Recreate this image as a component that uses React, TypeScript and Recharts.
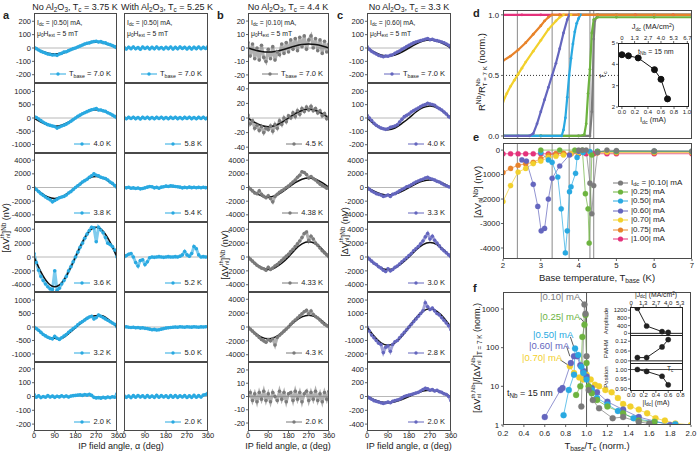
import React from 'react';
import { ComposedChart, LineChart, Line, XAxis, YAxis, ReferenceLine } from 'recharts';

const FONT = '"Liberation Sans", Arial, Helvetica, sans-serif';

const C_BLUE = '#29a9e1';
const C_GRAY = '#7b7b7b';
const C_PURP = '#6466be';
const C_GREEN = '#6db33f';
const C_YEL = '#f2d02c';
const C_ORG = '#e8832a';
const C_PINK = '#e4317b';

// ---------------- angle data (0..360 step 10) ----------------
const ANGLES = [0,10,20,30,40,50,60,70,80,90,100,110,120,130,140,150,160,170,180,190,200,210,220,230,240,250,260,270,280,290,300,310,320,330,340,350,360];
const FIT_ANGLES = [0,30,60,90,120,150,180,210,240,270,300,330,360];
const ANGLE_TICKS = [0,90,180,270,360];

// panel a, no Al2O3
const AL1 = [5,-5,-15,-25,-32,-38,-45,-48,-52,-50,-55,-45,-40,-30,-28,-20,-12,-5,0,8,15,22,30,35,38,45,48,50,45,48,40,38,30,25,18,10,0];
const AL1F = [0,-22,-39,-45,-39,-22,0,22,39,45,39,22,0];
const AL2 = [50,20,-40,-100,-160,-210,-250,-280,-300,-320,-380,-340,-300,-270,-230,-180,-120,-60,0,60,110,160,200,240,280,310,330,360,300,300,270,250,200,160,110,60,0];
const AL2F = [0,-155,-268,-310,-268,-155,0,155,268,310,268,155,0];
const AL3 = [0,-300,-600,-900,-1150,-1400,-1600,-1800,-2100,-1900,-1700,-1500,-1400,-1300,-1100,-800,-600,-300,0,250,500,800,1000,1200,1500,1700,2000,1800,1700,1500,1400,1300,1100,800,600,300,0];
const AL3F = [0,-800,-1386,-1600,-1386,-800,0,800,1386,1600,1386,800,0];
const AL4 = [500,-800,-1900,-2800,-3400,-3900,-4300,-4600,-4700,-2000,-4800,-4500,-3900,-3400,-2800,-2000,-1400,-700,0,700,1400,2000,2700,3300,3800,4300,4200,2200,4300,3900,3500,2800,2000,1800,1500,1000,0];
const AL4F = [0,-2150,-3720,-4300,-3720,-2150,0,2150,3720,4300,3720,2150,0];
const AL5 = [0,-60,-120,-200,-280,-330,-380,-420,-440,-350,-420,-460,-400,-340,-280,-200,-130,-60,0,80,150,200,260,320,370,400,300,350,440,400,350,300,250,200,150,100,0];
const AL5F = [0,-200,-380,-420,-420,-250,-30,200,380,420,410,230,0];
const AL6 = [15,-5,5,-8,0,-5,6,-4,3,-6,2,-3,5,-2,4,-4,3,6,8,10,12,8,14,10,16,8,-6,-10,-8,-12,-6,-10,-4,-8,-2,-5,20];

// panel a, with Al2O3
const AR1 = [5,-8,6,-5,8,-6,4,-9,7,-4,6,-7,5,-6,8,-5,4,-7,6,-5,7,-8,5,-6,8,-4,6,-7,5,-8,6,-5,7,-6,5,-4,10];
const AR2 = [20,-30,25,-20,30,-25,20,-35,25,-20,30,-25,20,-30,25,-20,30,-25,20,-30,25,-20,30,-25,20,-30,25,-20,30,-25,20,-30,25,-20,30,-25,20];
const AR3 = [0,-50,30,-100,-60,-150,-80,-200,-150,-50,50,150,100,-50,20,-100,50,100,200,150,250,200,150,100,50,-50,20,-30,50,-20,30,-40,20,-30,40,-20,0];
const AR4 = [0,200,400,500,0,-800,-1300,-500,-400,-1100,-700,-100,0,-50,0,50,0,-50,0,50,0,0,50,0,100,300,800,300,100,500,1500,1200,300,0,50,0,0];
const AR5 = [0,10,-10,-20,-10,-30,-20,-40,-30,-50,-60,-80,-100,-90,-110,-100,-80,-60,-40,-30,-20,-10,0,-10,10,0,-10,10,0,-5,10,0,-10,5,0,10,20];
const AR6 = [5,-6,4,-8,6,-5,7,-4,5,-7,6,-5,4,-6,8,-5,6,-4,5,-7,6,-5,7,-6,5,-4,6,-7,5,-6,8,-5,6,-4,10,15,25];

// panel b
const BC1 = [4,-6,3,-8,0,-9,2,-7,-10,-1,-8,1,-9,-3,-5,3,-4,4,-3,6,-1,7,-2,8,1,9,-1,6,9,0,7,-2,6,-4,5,-3,3];
const BC1F = [0,-1.5,-2.6,-3,-2.6,-1.5,0,1.5,2.6,3,2.6,1.5,0];
const BC2 = [4,-8,-4,-14,-10,-17,-12,-20,-14,-16,-11,-18,-9,-14,-4,-9,0,-5,3,0,7,2,10,5,13,9,15,11,16,10,13,7,10,3,6,-1,2];
const BC2F = [0,-6,-10.4,-12,-10.4,-6,0,6,10.4,12,10.4,6,0];
const BC3 = [100,-200,-500,-800,-900,-500,-1000,-1300,-1500,-1200,-1600,-2100,-1300,-1000,-700,-500,-300,0,200,500,800,1100,1500,1800,2300,2200,1900,1400,1600,1300,1100,800,500,300,100,-100,0];
const BC3F = [0,-700,-1212,-1400,-1212,-700,0,700,1212,1400,1212,700,0];
const BC4 = [0,-300,-600,-900,-1200,-1400,-1600,-1700,-1900,-1500,-1800,-1600,-1300,-1100,-800,-500,-200,100,400,800,1100,1500,1900,2300,2800,3400,3600,2400,3000,2600,2000,1700,1300,900,600,300,0];
const BC4F = [0,-900,-1550,-1800,-1550,-900,0,1100,1900,2200,1900,1100,0];
const BC5 = [0,-300,-600,-900,-1200,-1500,-1800,-2000,-2200,-1800,-2000,-1700,-2600,-1500,-1200,-900,-600,-300,0,400,700,1000,1300,1600,1900,2200,2400,1900,2300,1800,1500,1300,1000,700,400,200,0];
const BC5F = [0,-850,-1470,-1700,-1470,-850,0,850,1470,1700,1470,850,0];
const BC6 = [0,3,-3,2,-4,3,-2,4,-3,2,-4,3,0,-3,4,-2,3,-4,2,3,-3,4,-2,3,-4,2,4,-3,3,-2,4,-3,2,-4,3,-2,4];

// panel c
const CC1 = [10,-10,-25,-35,-45,-55,-60,-65,-60,-62,-55,-50,-40,-30,-22,-10,0,10,20,30,38,45,50,55,60,65,70,62,65,58,55,50,45,38,30,20,0];
const CC1F = [0,-30,-52,-60,-52,-30,0,30,52,60,52,30,0];
const CC2 = [20,0,-20,-40,-55,-65,-75,-80,-85,-80,-70,-65,-60,-50,-30,-10,10,20,30,45,55,65,75,85,95,100,110,105,100,95,80,70,60,45,30,10,0];
const CC2F = [0,-45,-78,-88,-75,-40,0,45,78,90,78,45,0];
const CC3 = [0,-250,-500,-700,-900,-1000,-1100,-1300,-1200,-1100,-1300,-1000,-900,-700,-500,-300,-100,100,200,400,600,800,950,1100,1200,1400,1500,1300,1200,1100,900,800,600,400,250,100,0];
const CC3F = [0,-550,-953,-1100,-953,-550,0,550,953,1100,953,550,0];
const CC4 = [0,-300,-600,-900,-1100,-1400,-1600,-1900,-2100,-1700,-2000,-1800,-1500,-1300,-1000,-700,-400,-100,200,500,900,1200,1500,1900,2300,2900,3400,2600,3000,2400,2000,1600,1200,900,600,300,0];
const CC4F = [0,-900,-1560,-1800,-1560,-900,0,1000,1800,2100,1800,1000,0];
const CC5 = [0,-300,-600,-800,-1000,-1200,-1300,-1900,-1500,-1400,-1800,-1300,-1100,-1000,-800,-600,-400,-200,0,200,400,600,800,1000,1200,1800,1500,1300,1400,1200,1000,900,700,500,300,100,-200];
const CC5F = [0,-675,-1170,-1350,-1170,-675,0,675,1170,1350,1170,675,0];
const CC6 = [0,-20,-40,-60,-70,-80,-90,-100,-90,-80,-90,-70,-60,-50,-40,-20,0,10,20,30,40,50,60,80,100,120,110,90,100,80,90,70,60,40,30,0,-60];
const CC6F = [0,-45,-78,-90,-78,-45,0,45,78,90,78,45,0];

const T250 = [-200,-100,0,100,200];
const T1300 = [-1000,-500,0,500,1000];
const T5000 = [-4000,-2000,0,2000,4000];
const T25 = [-20,-10,0,10,20];
const T50 = [-40,-20,0,20,40];
const T2600 = [-2000,-1000,0,1000,2000];
const T500 = [-400,-200,0,200,400];

const LEG_AL = ['7.0 K','4.0 K','3.8 K','3.6 K','3.2 K','2.0 K'];
const LEG_AR = ['7.0 K','5.8 K','5.4 K','5.2 K','5.0 K','2.0 K'];
const LEG_B = ['7.0 K','4.5 K','4.38 K','4.33 K','4.3 K','2.0 K'];
const LEG_C = ['7.0 K','4.0 K','3.3 K','3.0 K','2.8 K','2.0 K'];

const SPEC_AL = [
  { vals: AL1, fit: AL1F, lim: 262, ticks: T250 },
  { vals: AL2, fit: AL2F, lim: 1320, ticks: T1300 },
  { vals: AL3, fit: AL3F, lim: 5050, ticks: T5000 },
  { vals: AL4, fit: AL4F, lim: 5050, ticks: T5000 },
  { vals: AL5, fit: AL5F, lim: 1300, ticks: T1300 },
  { vals: AL6, fit: null, lim: 250, ticks: T250 },
];
const SPEC_AR = [
  { vals: AR1, fit: null, lim: 262, ticks: T250 },
  { vals: AR2, fit: null, lim: 1320, ticks: T1300 },
  { vals: AR3, fit: null, lim: 5050, ticks: T5000 },
  { vals: AR4, fit: null, lim: 5050, ticks: T5000 },
  { vals: AR5, fit: null, lim: 1300, ticks: T1300 },
  { vals: AR6, fit: null, lim: 250, ticks: T250 },
];
const SPEC_B = [
  { vals: BC1, fit: BC1F, lim: 26, ticks: T25 },
  { vals: BC2, fit: BC2F, lim: 48, ticks: T50 },
  { vals: BC3, fit: BC3F, lim: 5050, ticks: T5000 },
  { vals: BC4, fit: BC4F, lim: 5050, ticks: T5000 },
  { vals: BC5, fit: BC5F, lim: 5050, ticks: T5000 },
  { vals: BC6, fit: null, lim: 26, ticks: T25 },
];
const SPEC_C = [
  { vals: CC1, fit: CC1F, lim: 262, ticks: T250 },
  { vals: CC2, fit: CC2F, lim: 262, ticks: T250 },
  { vals: CC3, fit: CC3F, lim: 5050, ticks: T5000 },
  { vals: CC4, fit: CC4F, lim: 5050, ticks: T5000 },
  { vals: CC5, fit: CC5F, lim: 2600, ticks: T2600 },
  { vals: CC6, fit: CC6F, lim: 500, ticks: T500 },
];

// ---------------- panel d ----------------
const D_T_PINK = [2,2.5,3,3.5,4,4.5,5,5.5,6,6.5,7];
const D_R_PINK = [1,1,1,1,1,1,1,1,1,1,1];
const D_T_ORG = [2,2.2,2.4,2.6,2.8,3.0,3.1,3.2,3.3,3.5,4,4.5,5,5.5,6,6.5,7];
const D_R_ORG = [0.62,0.66,0.71,0.77,0.84,0.91,0.95,0.98,1,1,1,1,1,1,1,1,1];
const D_T_YEL = [2,2.1,2.2,2.3,2.4,2.5,2.6,2.8,3.0,3.2,3.4,3.5,3.6,3.8,4,4.5,5,6,7];
const D_R_YEL = [0.28,0.35,0.41,0.46,0.51,0.56,0.61,0.7,0.79,0.88,0.95,0.98,1,1,1,1,1,1,1];
const D_T_PUR = [2,2.4,2.7,2.8,2.9,3.0,3.1,3.2,3.3,3.4,3.5,3.6,3.7,3.75,4,4.5,5,6,7];
const D_R_PUR = [0,0,0,0.02,0.1,0.2,0.3,0.4,0.5,0.6,0.72,0.85,0.96,1,1,1,1,1,1];
const D_T_BLU = [2,3,3.55,3.6,3.65,3.7,3.75,3.8,3.85,3.9,3.95,4.0,4.05,4.5,5,6,7];
const D_R_BLU = [0,0,0,0.05,0.15,0.32,0.5,0.64,0.76,0.86,0.93,0.97,1,1,1,1,1];
const D_T_GRN = [2,3,4,4.15,4.2,4.25,4.3,4.35,4.4,4.5,5,6,7];
const D_R_GRN = [0,0,0,0.01,0.1,0.35,0.55,0.85,0.96,0.98,0.98,0.98,0.98];
const D_T_GRY = [2,3,4,4.3,4.35,4.38,4.4,4.43,4.5,5,6,7];
const D_R_GRY = [0,0,0,0,0.2,0.5,0.8,0.95,1,1,1,1];
const TC_LINES = [2.38,3.3,3.75,4.3,4.4];

// inset d
const DI_I = [0,0.1,0.25,0.5,0.6,0.7];
const DI_TC = [4.45,4.4,4.3,3.75,3.3,2.38];
const DI_I_TICKS = [0,0.2,0.4,0.6,0.8,1.0];
const DI_J_TICKS = [0,1.3,2.7,4.0,5.3,6.7];

// ---------------- panel e ----------------
const E_T_GRY = [4.0,4.1,4.2,4.3,4.35,4.4,4.5,4.75,5,6,7];
const E_V_GRY = [0,0,0,-1350,-2600,-1450,-100,0,-20,-30,-40];
const E_T_GRN = [3.0,3.5,3.9,4.1,4.18,4.25,4.28,4.35,4.5,5,6,7];
const E_V_GRN = [0,0,0,0,-1780,-2400,-3800,-200,-50,-50,-50,-50];
const E_T_BLU = [3.0,3.2,3.3,3.45,3.54,3.65,3.7,3.76,3.8,3.92,3.96,4.12,4.3,4.5,5,6,7];
const E_V_BLU = [-100,-400,-500,-1100,-2400,-4200,-3300,-1700,-1500,-950,-300,-100,-60,-60,-50,-50,-50];
const E_T_PUR = [2.5,2.62,2.8,2.92,3.01,3.1,3.2,3.3,3.5,3.76,4.0,4.5,5,6,7];
const E_V_PUR = [-400,-450,-1400,-2300,-3300,-3200,-2000,-1150,-650,-200,-50,-50,-50,-50,-50];
const E_T_YEL = [2.0,2.2,2.4,2.6,2.8,3.0,3.2,3.4,3.6,3.8,4.0,4.3,4.75,5,6,7];
const E_V_YEL = [-2100,-1450,-900,-750,-550,-450,-300,-250,-200,-150,-100,-100,-80,-80,-80,-80];
const E_T_ORG = [2.0,2.2,2.4,2.6,2.8,3.0,3.2,3.4,3.6,4.0,4.5,5,6,7];
const E_V_ORG = [-920,-750,-620,-560,-500,-350,-200,-150,-130,-120,-110,-110,-110,-110];
const E_T_PINK = [2.0,2.2,2.4,2.6,2.8,3.0,3.2,3.4,3.6,3.8,4.0,4.2,4.4,4.75,5,6,7];
const E_V_PINK = [-150,-150,-150,-150,-150,-150,-150,-150,-150,-150,-150,-150,-150,-150,-150,-150,-150];
const E_LEGEND = ['|0.10| mA','|0.25| mA','|0.50| mA','|0.60| mA','|0.70| mA','|0.75| mA','|1.00| mA'];

// ---------------- panel f ----------------
const F_X_GRY = [0.95,0.98,0.99,1.0,1.02,1.06,1.12,1.25,1.35,1.5,1.6];
const F_Y_GRY = [3,1300,750,60,8,4.4,2.7,1.5,1.6,1.2,1.1];
const F_X_GRN = [0.9,0.94,0.96,0.98,0.99,1.0,1.02,1.05,1.1,1.2,1.35,1.5,1.65];
const F_Y_GRN = [6,10,190,390,700,40,10,6.6,4.4,3,2,1.3,1.2];
const F_X_BLU = [0.78,0.83,0.88,0.89,0.92,0.95,0.97,1.0,1.05,1.1,1.2,1.3,1.45,1.65,1.85];
const F_Y_BLU = [1.8,8,20,95,65,32,22,15,8,5,3.4,2.3,1.5,1.2,1.05];
const F_X_PUR = [0.6,0.75,0.77,0.85,0.88,0.91,0.94,0.97,1.0,1.05,1.1,1.2,1.35,1.5,1.8];
const F_Y_PUR = [1.6,8,9,40,60,60,35,25,18,9,7,4,2.5,1.6,1.0];
const F_X_YEL = [0.84,0.88,0.93,0.97,1.0,1.04,1.08,1.12,1.18,1.24,1.3,1.35,1.42,1.5,1.58,1.66,1.75,1.85,2.0];
const F_Y_YEL = [33,22,17,15,20,15,11,10,8,7,5,3.5,3.0,2.5,2.0,1.5,1.3,1.1,1.0];
const F_X_TICKS = [0.2,0.4,0.6,0.8,1.0,1.2,1.4,1.6,1.8,2.0];
const F_Y_TICKS = [1,10,100,1000];

// inset f
const FI_I = [0.1,0.25,0.5,0.6];
const FI_AMP = [1300,380,90,50];
const FI_FWHM = [0.02,0.02,0.085,0.13];
const FI_POS = [1.0,0.99,0.965,0.92];
const FI_I_TICKS = [0,0.2,0.4,0.6,0.8];
const FI_J_TICKS = [0,1.3,2.7,4.0,5.3];

// ---------------- helpers ----------------
const rowsOf = (xs: number[], ys: number[], kx: string, ky: string) =>
  xs.map((x, i) => ({ [kx]: x, [ky]: ys[i] }));

const TICK_S = { fontSize: 7.5, fill: '#222', fontFamily: FONT };
const TICK_M = { fontSize: 7.8, fill: '#222', fontFamily: FONT };
const TICK_XS = { fontSize: 6, fill: '#222', fontFamily: FONT };
const SUB: React.CSSProperties = { fontSize: '0.7em', verticalAlign: 'baseline', position: 'relative', top: '0.3em' };
const SUP: React.CSSProperties = { fontSize: '0.7em', verticalAlign: 'baseline', position: 'relative', top: '-0.45em' };
const fmt1 = (v: number) => v.toFixed(1);
const fmt2 = (v: number) => v.toFixed(2);
const fmtJ = (v: number) => (v === 0 ? '0' : v.toFixed(1));

const ROW_Y = [13, 83, 153, 222, 292, 362];
const ROW_H = [70, 70, 69, 70, 70, 69];

function SupSub({ sup, sub }: { sup: string; sub: string }) {
  return (
    <span style={{ display: 'inline-flex', flexDirection: 'column', verticalAlign: 'middle', fontSize: '0.65em', lineHeight: 1, marginTop: '-0.1em' }}>
      <span>{sup}</span>
      <span>{sub}</span>
    </span>
  );
}

function Frame({ x, y, w, h, c = '#4a4a4a' }: any) {
  return <div style={{ position: 'absolute', left: x, top: y, width: w, height: h, border: `1px solid ${c}`, boxSizing: 'border-box', pointerEvents: 'none' }} />;
}

function Txt({ x, y, size = 8, color = '#222', bold = false, children, anchor = 'left' }: any) {
  const tr = anchor === 'center' ? 'translate(-50%,-50%)' : 'translate(0,-50%)';
  return (
    <div style={{ position: 'absolute', left: x, top: y, transform: tr, fontSize: size, color, fontWeight: bold ? 700 : 400, whiteSpace: 'nowrap', lineHeight: 1 }}>
      {children}
    </div>
  );
}

function VLabel({ x, y, size = 9, children }: any) {
  return (
    <div style={{ position: 'absolute', left: x, top: y, transform: 'translate(-50%,-50%) rotate(-90deg)', fontSize: size, whiteSpace: 'nowrap', lineHeight: 1, color: '#222' }}>
      {children}
    </div>
  );
}

function AnglePlot({ x, y, w, h, vals, fit, lim, ticks, color, showY, showX, legend, first }: any) {
  const yw = showY ? 27 : 0;
  const xh = showX ? 11 : 0;
  const ml = 8;
  const mr = 8;
  const data = ANGLES.map((a, i) => ({ a, v: vals[i] }));
  const fitData = fit ? FIT_ANGLES.map((a, i) => ({ a, f: fit[i] })) : null;
  return (
    <>
      <div style={{ position: 'absolute', left: x - yw - ml, top: y }}>
        <ComposedChart width={w + yw + ml + mr} height={h + xh} data={data} margin={{ top: 0, right: mr, bottom: 0, left: ml }}>
          <XAxis type="number" dataKey="a" domain={[0, 360]} ticks={ANGLE_TICKS} interval={0} hide={!showX} height={xh} tick={TICK_S} tickSize={2} tickMargin={0} axisLine={false} allowDataOverflow />
          <YAxis type="number" domain={[-lim, lim]} ticks={ticks} interval={0} hide={!showY} width={yw} tick={TICK_S} tickSize={2} tickMargin={1} axisLine={false} allowDataOverflow />
          <ReferenceLine y={0} stroke="#b8b8b8" strokeWidth={1} />
          <Line dataKey="v" stroke={color} strokeOpacity={0.6} strokeWidth={3} dot={{ r: 1.8, fill: color, stroke: 'none' }} isAnimationActive={false} />
          {fitData && <Line data={fitData} dataKey="f" type="natural" stroke="#111" strokeWidth={1.5} dot={false} isAnimationActive={false} />}
        </ComposedChart>
      </div>
      <Frame x={x} y={y} w={w} h={h} />
      <div style={{ position: 'absolute', left: x, top: y + h - 14, width: w - 6, height: 10, display: 'flex', justifyContent: 'flex-end', alignItems: 'center', fontSize: 7.5, color: '#222', whiteSpace: 'nowrap', lineHeight: 1 }}>
        <svg width={16} height={6} style={{ marginRight: 3 }}>
          <line x1={0} y1={3} x2={16} y2={3} stroke={color} strokeWidth={1} />
          <circle cx={8} cy={3} r={1.7} fill={color} />
        </svg>
        {first ? <span>T<span style={SUB}>base</span> = {legend}</span> : <span>{legend}</span>}
      </div>
    </>
  );
}

function Column({ x, w, specs, color, labels, showY, idc }: any) {
  return (
    <>
      {specs.map((s: any, i: number) => (
        <AnglePlot key={i} x={x} w={w} y={ROW_Y[i]} h={ROW_H[i]} vals={s.vals} fit={s.fit} lim={s.lim} ticks={s.ticks}
          color={color} showY={showY} showX={i === 5} legend={labels[i]} first={i === 0} />
      ))}
      <Txt x={x + 3} y={ROW_Y[0] + 10} size={6.8}>I<span style={SUB}>dc</span> = {idc} mA,</Txt>
      <Txt x={x + 3} y={ROW_Y[0] + 21} size={6.8}>μ<span style={SUB}>0</span>H<span style={SUB}>ext</span> = 5 mT</Txt>
    </>
  );
}

function DotLine({ data, k, color, r = 2.6, w = 1, op = 1, xId }: any) {
  return (
    <Line data={data} dataKey={k} xAxisId={xId} stroke={color} strokeWidth={w} strokeOpacity={op}
      dot={{ r, fill: color, stroke: color, strokeWidth: 0.4 }} isAnimationActive={false} />
  );
}

function PanelD() {
  const series = [
    { t: D_T_PINK, r: D_R_PINK, c: C_PINK },
    { t: D_T_GRY, r: D_R_GRY, c: C_GRAY },
    { t: D_T_GRN, r: D_R_GRN, c: C_GREEN },
    { t: D_T_BLU, r: D_R_BLU, c: C_BLUE },
    { t: D_T_PUR, r: D_R_PUR, c: C_PURP },
    { t: D_T_YEL, r: D_R_YEL, c: C_YEL },
    { t: D_T_ORG, r: D_R_ORG, c: C_ORG },
  ];
  return (
    <>
      <div style={{ position: 'absolute', left: 475, top: 10 }}>
        <LineChart width={221} height={135} margin={{ top: 0, right: 4, bottom: 6, left: 2 }}>
          <XAxis type="number" dataKey="t" domain={[2, 7]} hide allowDataOverflow />
          <YAxis type="number" domain={[-0.025, 1.04]} ticks={[0, 0.5, 1]} interval={0} width={26} tick={TICK_M} tickSize={2} tickMargin={2} axisLine={false} tickFormatter={fmt1} allowDataOverflow />
          {TC_LINES.map((tc) => <ReferenceLine key={tc} x={tc} stroke="#8a8a8a" strokeWidth={1} />)}
          <ReferenceLine segment={[{ x: 2, y: 0.5 }, { x: 5.03, y: 0.5 }]} stroke="#333" strokeDasharray="1 2" />
          {series.map((s, i) => (
            <Line key={i} data={rowsOf(s.t, s.r, 't', 'r')} dataKey="r" stroke={s.c} strokeWidth={2.2} dot={{ r: 1.4, fill: s.c, stroke: 'none' }} isAnimationActive={false} />
          ))}
        </LineChart>
      </div>
      <Frame x={503} y={10} w={189} h={129} />
      {/* inset */}
      <div style={{ position: 'absolute', left: 606, top: 33 }}>
        <LineChart width={89} height={84} margin={{ top: 0, right: 6, bottom: 0, left: 2 }}>
          <XAxis xAxisId="i" type="number" dataKey="i" domain={[-0.06, 1.03]} ticks={DI_I_TICKS} interval={0} height={10} tick={TICK_XS} tickSize={2} tickMargin={1} axisLine={false} tickFormatter={fmt1} allowDataOverflow />
          <XAxis xAxisId="j" orientation="top" type="number" dataKey="j" domain={[-0.4, 6.87]} ticks={DI_J_TICKS} interval={0} height={10} tick={TICK_XS} tickSize={2} tickMargin={1} axisLine={false} tickFormatter={fmtJ} allowDataOverflow />
          <YAxis type="number" domain={[2, 5]} ticks={[2, 3, 4, 5]} interval={0} width={10} tick={TICK_XS} tickSize={2} tickMargin={1} axisLine={false} allowDataOverflow />
          <Line xAxisId="j" data={DI_J_TICKS.map((j) => ({ j, y: 3 }))} dataKey="y" stroke="none" dot={false} isAnimationActive={false} />
          <Line xAxisId="i" data={rowsOf(DI_I, DI_TC, 'i', 'y')} dataKey="y" stroke="#111" strokeWidth={1} dot={{ r: 3, fill: '#111', stroke: '#111' }} isAnimationActive={false} />
        </LineChart>
      </div>
      <Frame x={618} y={43} w={71} h={64} c="#222" />
      <Txt x={653} y={27} size={7.5} anchor="center">J<span style={SUB}>dc</span> (MA/cm<span style={SUP}>2</span>)</Txt>
      <Txt x={653} y={120} size={7.5} anchor="center">I<span style={SUB}>dc</span> (mA)</Txt>
      <VLabel x={603} y={75} size={7.5}>T<span style={SUB}>c</span></VLabel>
      <Txt x={638} y={52} size={7}>t<span style={SUB}>Nb</span> = 15 nm</Txt>
      <VLabel x={482} y={72} size={9.5}>R<span style={SUP}>Nb</span>/R<SupSub sup="Nb" sub="T = 7 K" /> (norm.)</VLabel>
    </>
  );
}

function PanelE() {
  const series = [
    { t: E_T_PINK, v: E_V_PINK, c: C_PINK },
    { t: E_T_ORG, v: E_V_ORG, c: C_ORG },
    { t: E_T_YEL, v: E_V_YEL, c: C_YEL },
    { t: E_T_PUR, v: E_V_PUR, c: C_PURP },
    { t: E_T_BLU, v: E_V_BLU, c: C_BLUE },
    { t: E_T_GRN, v: E_V_GRN, c: C_GREEN },
    { t: E_T_GRY, v: E_V_GRY, c: C_GRAY },
  ];
  const legColors = [C_GRAY, C_GREEN, C_BLUE, C_PURP, C_YEL, C_ORG, C_PINK];
  return (
    <>
      <div style={{ position: 'absolute', left: 473, top: 143 }}>
        <LineChart width={223} height={128} margin={{ top: 0, right: 4, bottom: 0, left: 2 }}>
          <XAxis type="number" dataKey="t" domain={[2, 7]} ticks={[2, 3, 4, 5, 6, 7]} interval={0} height={12} tick={TICK_M} tickSize={2} tickMargin={1} axisLine={false} allowDataOverflow />
          <YAxis type="number" domain={[-4450, 290]} ticks={[-4000, -3000, -2000, -1000, 0]} interval={0} width={28} tick={TICK_M} tickSize={2} tickMargin={1} axisLine={false} allowDataOverflow />
          {TC_LINES.map((tc) => <ReferenceLine key={tc} x={tc} stroke="#8a8a8a" strokeWidth={1} />)}
          {series.map((s, i) => (
            <DotLine key={i} data={rowsOf(s.t, s.v, 't', 'v')} k="v" color={s.c} r={2.6} w={1} op={0.7} />
          ))}
        </LineChart>
      </div>
      <Frame x={503} y={143} w={189} h={116} />
      {E_LEGEND.map((lab, i) => (
        <div key={i} style={{ position: 'absolute', left: 613, top: 178 + i * 9.4, height: 9, display: 'flex', alignItems: 'center', fontSize: 8, whiteSpace: 'nowrap', lineHeight: 1 }}>
          <svg width={15} height={8} style={{ marginRight: 3 }}>
            <line x1={0} y1={4} x2={15} y2={4} stroke={legColors[i]} strokeWidth={1} />
            <circle cx={7.5} cy={4} r={2.6} fill={legColors[i]} />
          </svg>
          {i === 0 ? <span>I<span style={SUB}>dc</span> = {lab}</span> : <span>{lab}</span>}
        </div>
      ))}
      <Txt x={597} y={278} size={9.5} anchor="center">Base temperature, T<span style={SUB}>base</span> (K)</Txt>
      <VLabel x={478} y={192} size={9.5}>[ΔV<span style={SUB}>nl</span><span style={SUP}>Nb</span>] (nV)</VLabel>
    </>
  );
}

function PanelF() {
  const series = [
    { x: F_X_YEL, y: F_Y_YEL, c: C_YEL },
    { x: F_X_PUR, y: F_Y_PUR, c: C_PURP },
    { x: F_X_BLU, y: F_Y_BLU, c: C_BLUE },
    { x: F_X_GRN, y: F_Y_GRN, c: C_GREEN },
    { x: F_X_GRY, y: F_Y_GRY, c: C_GRAY },
  ];
  const arrows = [
    [{ x: 0.94, y: 1800 }, { x: 0.975, y: 1350 }],
    [{ x: 0.94, y: 590 }, { x: 0.985, y: 420 }],
    [{ x: 0.845, y: 190 }, { x: 0.88, y: 100 }],
    [{ x: 0.81, y: 106 }, { x: 0.84, y: 60 }],
    [{ x: 0.75, y: 48 }, { x: 0.82, y: 36 }],
  ];
  return (
    <>
      <div style={{ position: 'absolute', left: 473, top: 292 }}>
        <LineChart width={224} height={147} margin={{ top: 0, right: 6, bottom: 0, left: 4 }}>
          <XAxis type="number" dataKey="x" domain={[0.2, 2.0]} ticks={F_X_TICKS} interval={0} height={14} tick={TICK_M} tickSize={2} tickMargin={3} axisLine={false} tickFormatter={fmt1} allowDataOverflow />
          <YAxis type="number" scale="log" domain={[1, 2750]} ticks={F_Y_TICKS} interval={0} width={26} tick={TICK_M} tickSize={2} tickMargin={2} axisLine={false} allowDataOverflow />
          <ReferenceLine x={1} stroke="#555" strokeWidth={1} />
          {arrows.map((seg, i) => <ReferenceLine key={i} segment={seg} stroke="#333" strokeWidth={0.8} />)}
          {series.map((s, i) => (
            <DotLine key={i} data={rowsOf(s.x, s.y, 'x', 'y')} k="y" color={s.c} r={3} w={1} op={0.7} />
          ))}
        </LineChart>
      </div>
      <Frame x={503} y={292} w={188} h={133} />
      <Txt x={540} y={297} size={9.5} color={C_GRAY}>|0.10| mA</Txt>
      <Txt x={540} y={317} size={9.5} color={C_GREEN}>|0.25| mA</Txt>
      <Txt x={533} y={335} size={9.5} color={C_BLUE}>|0.50| mA</Txt>
      <Txt x={529} y={346} size={9.5} color={C_PURP}>|0.60| mA</Txt>
      <Txt x={522} y={358} size={9.5} color={C_YEL}>|0.70| mA</Txt>
      <Txt x={507} y={393} size={9}>t<span style={SUB}>Nb</span> = 15 nm</Txt>
      <Txt x={597} y={446} size={9.5} anchor="center">T<span style={SUB}>base</span>/T<span style={SUB}>c</span> (norm.)</Txt>
      <VLabel x={478} y={358} size={9}>[ΔV<SupSub sup="th,Nb" sub="nl" />]/[ΔV<SupSub sup="Nb" sub="nl" />]<span style={SUB}>T = 7 K</span> (norm.)</VLabel>
      {/* inset: amplitude */}
      <div style={{ position: 'absolute', left: 610, top: 298 }}>
        <LineChart width={77} height={37} margin={{ top: 0, right: 4, bottom: 0, left: 2 }}>
          <XAxis xAxisId="i" type="number" dataKey="i" domain={[-0.02, 0.84]} hide allowDataOverflow />
          <XAxis xAxisId="j" orientation="top" type="number" dataKey="j" domain={[-0.13, 5.6]} ticks={FI_J_TICKS} interval={0} height={9} tick={TICK_XS} tickSize={2} tickMargin={0} axisLine={false} tickFormatter={fmtJ} allowDataOverflow />
          <YAxis type="number" domain={[-85, 1365]} ticks={[0, 400, 800, 1200]} interval={0} width={18} tick={TICK_XS} tickSize={2} tickMargin={1} axisLine={false} allowDataOverflow />
          <ReferenceLine xAxisId="i" y={0} stroke="#222" strokeWidth={1} />
          <Line xAxisId="j" data={FI_J_TICKS.map((j) => ({ j, v: 600 }))} dataKey="v" stroke="none" dot={false} isAnimationActive={false} />
          <DotLine xId="i" data={rowsOf(FI_I, FI_AMP, 'i', 'v')} k="v" color="#222" r={2.6} w={1} />
        </LineChart>
      </div>
      <div style={{ position: 'absolute', left: 610, top: 335 }}>
        <LineChart width={77} height={28} margin={{ top: 0, right: 4, bottom: 0, left: 2 }}>
          <XAxis type="number" dataKey="i" domain={[-0.02, 0.84]} hide allowDataOverflow />
          <YAxis type="number" domain={[-0.013, 0.158]} ticks={[0, 0.06, 0.12]} interval={0} width={18} tick={TICK_XS} tickSize={2} tickMargin={1} axisLine={false} tickFormatter={fmt2} allowDataOverflow />
          <ReferenceLine y={0} stroke="#222" strokeWidth={1} />
          <DotLine data={rowsOf(FI_I, FI_FWHM, 'i', 'v')} k="v" color="#222" r={2.6} w={1} />
        </LineChart>
      </div>
      <div style={{ position: 'absolute', left: 610, top: 363 }}>
        <LineChart width={77} height={37} margin={{ top: 0, right: 4, bottom: 0, left: 2 }}>
          <XAxis type="number" dataKey="i" domain={[-0.02, 0.84]} ticks={FI_I_TICKS} interval={0} height={9} tick={TICK_XS} tickSize={2} tickMargin={0} axisLine={false} tickFormatter={fmt1} allowDataOverflow />
          <YAxis type="number" domain={[0.888, 1.034]} ticks={[0.9, 0.95, 1.0]} interval={0} width={18} tick={TICK_XS} tickSize={2} tickMargin={1} axisLine={false} tickFormatter={fmt2} allowDataOverflow />
          <ReferenceLine y={1} stroke="#222" strokeWidth={0.8} />
          <DotLine data={rowsOf(FI_I, FI_POS, 'i', 'v')} k="v" color="#222" r={2.6} w={1} />
        </LineChart>
      </div>
      <Frame x={630} y={307} w={53} h={29} c="#222" />
      <Frame x={630} y={335} w={53} h={29} c="#222" />
      <Frame x={630} y={363} w={53} h={28} c="#222" />
      <Txt x={667} y={369} size={6.5}>T<span style={SUB}>c</span></Txt>
      <Txt x={656} y={295} size={6.8} anchor="center">|J<span style={SUB}>dc</span>| (MA/cm<span style={SUP}>2</span>)</Txt>
      <Txt x={656} y={403} size={6.8} anchor="center">|I<span style={SUB}>dc</span>| (mA)</Txt>
      <VLabel x={606} y={321} size={6}>Amplitude</VLabel>
      <VLabel x={606} y={349} size={6}>FWHM</VLabel>
      <VLabel x={606} y={377} size={6}>Position</VLabel>
    </>
  );
}

const YLAB = (
  <span>[ΔV<SupSub sup="th" sub="nl" />]<span style={SUP}>Nb</span> (nV)</span>
);

export default function App() {
  return (
    <div style={{ position: 'absolute', left: 0, top: 0, width: 697, height: 451, overflow: 'hidden', background: '#fff', fontFamily: FONT, color: '#222' }}>
      {/* panel a */}
      <Column x={34} w={83} specs={SPEC_AL} color={C_BLUE} labels={LEG_AL} showY idc="|0.50|" />
      <Column x={124} w={84} specs={SPEC_AR} color={C_BLUE} labels={LEG_AR} showY={false} idc="|0.50|" />
      {/* panel b */}
      <Column x={248} w={81} specs={SPEC_B} color={C_GRAY} labels={LEG_B} showY idc="|0.10|" />
      {/* panel c */}
      <Column x={367} w={84} specs={SPEC_C} color={C_PURP} labels={LEG_C} showY idc="|0.60|" />

      <Txt x={75} y={7} size={9} anchor="center">No Al<span style={SUB}>2</span>O<span style={SUB}>3</span>, T<span style={SUB}>c</span> = 3.75 K</Txt>
      <Txt x={167} y={7} size={9} anchor="center">With Al<span style={SUB}>2</span>O<span style={SUB}>3</span>, T<span style={SUB}>c</span> = 5.25 K</Txt>
      <Txt x={288} y={7} size={9} anchor="center">No Al<span style={SUB}>2</span>O<span style={SUB}>3</span>, T<span style={SUB}>c</span> = 4.4 K</Txt>
      <Txt x={409} y={7} size={9} anchor="center">No Al<span style={SUB}>2</span>O<span style={SUB}>3</span>, T<span style={SUB}>c</span> = 3.3 K</Txt>

      <Txt x={3} y={15} size={11} bold>a</Txt>
      <Txt x={217} y={15} size={11} bold>b</Txt>
      <Txt x={337} y={15} size={11} bold>c</Txt>
      <Txt x={473} y={13} size={11} bold>d</Txt>
      <Txt x={473} y={137} size={11} bold>e</Txt>
      <Txt x={473} y={288} size={11} bold>f</Txt>

      <Txt x={121} y={446} size={9} anchor="center">IP field angle, α (deg)</Txt>
      <Txt x={288} y={446} size={9} anchor="center">IP field angle, α (deg)</Txt>
      <Txt x={409} y={446} size={9} anchor="center">IP field angle, α (deg)</Txt>

      <VLabel x={7} y={228} size={9}>{YLAB}</VLabel>
      <VLabel x={226} y={255} size={9}>{YLAB}</VLabel>
      <VLabel x={346} y={232} size={9}>{YLAB}</VLabel>

      <PanelD />
      <PanelE />
      <PanelF />
    </div>
  );
}
